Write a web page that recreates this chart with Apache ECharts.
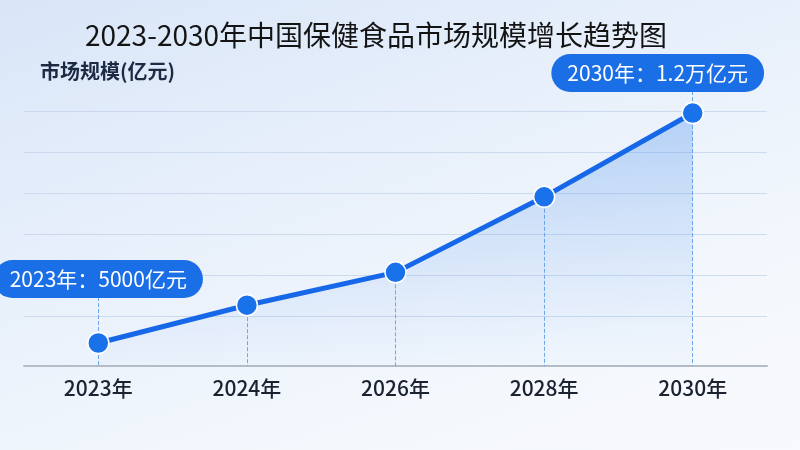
<!DOCTYPE html>
<html>
<head>
<meta charset="utf-8">
<script src="https://cdn.jsdelivr.net/npm/echarts@6/dist/echarts.min.js"></script>
<style>
html, body { margin: 0; padding: 0; }
body {
    width: 800px; height: 450px; overflow: hidden;
    background: linear-gradient(160deg, #d9e6f8 0%, #e8f0fb 40%, #f4f8fd 75%, #f8f9fc 100%);
}
#main { width: 800px; height: 450px; }
</style>
</head>
<body>
<div id="main"></div>
<script>
// 2023-2030 保健食品市场规模
var years = ['2023年', '2024年', '2026年', '2028年', '2030年'];
var sizes = [5000, 6150, 7150, 9450, 12000];
var callouts = ['2023年：5000亿元', '', '', '', '2030年：1.2万亿元'];

var yMin = 4300;
var myChart = echarts.init(document.getElementById('main'));

var pointData = [];
var dropLines = [];
for (var i = 0; i < years.length; i++) {
    var item = { value: sizes[i] };
    if (callouts[i]) {
        item.label = {
            show: true,
            position: 'inside',
            offset: i == 0 ? [0, -64] : [-35, -40],
            formatter: callouts[i],
            color: '#fff',
            fontSize: 21,
            fontFamily: 'Noto Sans CJK SC',
            backgroundColor: '#1a6fe6',
            borderRadius: 19,
            padding: [8, 16, 8, 16],
            lineHeight: 22
        };
    }
    pointData.push(item);
    dropLines.push([{ coord: [years[i], sizes[i]] }, { coord: [years[i], yMin] }]);
}
// 标签下方的虚线
dropLines.push([{ coord: [years[0], sizes[0]] }, { coord: [years[0], 6370] }]);
dropLines.push([{ coord: [years[4], sizes[4]] }, { coord: [years[4], 12640] }]);

var gridColor = 'rgba(200,215,235,0.9)';

option = {
    backgroundColor: 'transparent',
    textStyle: { fontFamily: 'Noto Sans CJK SC' },
    title: [{
        text: '2023-2030年中国保健食品市场规模增长趋势图',
        left: 80,
        top: 16,
        textStyle: { fontSize: 28, fontWeight: 'normal', color: '#141414' }
    }, {
        text: '市场规模(亿元)',
        left: 35,
        top: 56,
        textStyle: { fontSize: 20, fontWeight: 'bold', color: '#1c2a44' }
    }],
    grid: { left: 24, right: 33, top: 70, bottom: 84 },
    xAxis: {
        type: 'category',
        data: years,
        axisLine: { onZero: false, lineStyle: { color: '#b4bcc8', width: 2 } },
        axisTick: { show: false },
        axisLabel: { fontSize: 21, color: '#1b2230', margin: 12, fontWeight: 500 }
    },
    yAxis: [{
        type: 'value',
        min: yMin,
        max: 13310,
        show: false,
        splitLine: { show: false }
    }, {
        // 只用来画网格线
        type: 'value',
        inverse: true,
        min: 0,
        max: 296,
        interval: 41,
        axisLine: { show: false },
        axisTick: { show: false },
        axisLabel: { show: false },
        splitLine: {
            show: true,
            lineStyle: {
                color: ['transparent', gridColor, gridColor, gridColor, gridColor, gridColor, gridColor, 'transparent', 'transparent'],
                width: 1
            }
        }
    }],
    series: [{
        name: '市场规模',
        type: 'line',
        yAxisIndex: 0,
        data: pointData,
        symbol: 'circle',
        symbolSize: 21,
        z: 3,
        itemStyle: { color: '#1a72ea', borderColor: '#fff', borderWidth: 1.5 },
        lineStyle: { color: '#1668e8', width: 5 },
        areaStyle: {
            color: new echarts.graphic.LinearGradient(0, 0, 0, 1, [
                { offset: 0, color: 'rgba(60,135,235,0.45)' },
                { offset: 1, color: 'rgba(120,170,240,0.04)' }
            ])
        },
        markLine: {
            silent: true,
            symbol: 'none',
            z: 1,
            label: { show: false },
            lineStyle: { color: '#6ea6ee', type: 'dashed', width: 1 },
            data: dropLines
        }
    }]
};

if (option && typeof option === "object") {
    myChart.setOption(option, true);
}
</script>
</body>
</html>
